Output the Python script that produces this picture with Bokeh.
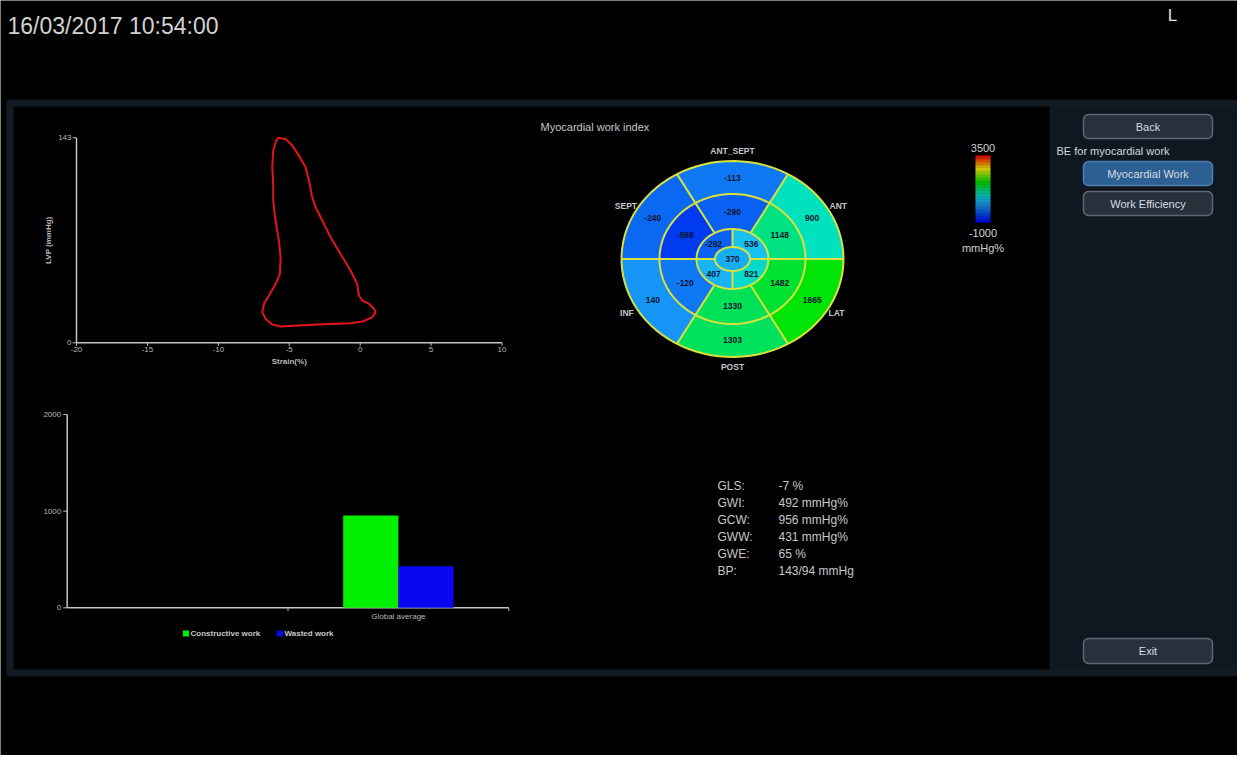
import numpy as np
from bokeh.plotting import figure
from bokeh.models import Range1d, ColumnDataSource
from bokeh.transform import linear_cmap
from bokeh.core.properties import value
from bokeh.embed import file_html
from bokeh.resources import INLINE

# ---------------- data ----------------
timestamp = ["16/03/2017 10:54:00"]
side_mark = ["L"]

# pressure-strain loop
loop_strain = [-5.80, -5.26, -4.79, -4.32, -3.85, -3.61, -3.38, -3.14, -2.67, -2.09,
               -1.38, -0.68, -0.21, -0.09, 0.15, 0.62, 0.97, 1.09, 0.85, 0.26,
               -0.68, -3.03, -5.61, -6.20, -6.67, -6.90, -6.78, -6.43, -5.96, -5.66,
               -5.61, -5.73, -5.89, -6.03, -6.13, -6.13, -6.20, -6.13, -5.96, -5.80]
loop_lvp = [143.0, 142.2, 137.6, 130.6, 122.5, 113.2, 101.6, 94.6, 85.3, 73.7,
            62.0, 50.4, 41.1, 33.0, 29.5, 27.2, 23.7, 21.4, 17.9, 15.1,
            13.7, 12.8, 11.4, 12.8, 16.7, 21.4, 27.2, 33.0, 41.1, 48.1,
            59.7, 71.3, 80.6, 89.9, 99.2, 110.9, 122.5, 134.1, 139.9, 143.0]
strain_ticks = [-20, -15, -10, -5, 0, 5, 10]
lvp_ticks = [0, 143]
strain_title = ["Strain(%)"]
lvp_title = ["LVP (mmHg)"]

# bar chart
bar_factors = ["", "Global average"]
constructive_work = [956]
wasted_work = [431]
work_ticks = [0, 1000, 2000]
legend_labels = ["Constructive work", "Wasted work"]

# bullseye (17 segments)
sector_names = ["ANT_SEPT", "ANT", "LAT", "POST", "INF", "SEPT"]
basal_work = [-113, 900, 1665, 1303, 140, -240]
mid_work = [-290, 1148, 1482, 1330, -120, -568]
apical_work = [536, -292, 407, 821]          # upper-right, upper-left, lower-left, lower-right
apex_work = [370]
scale_min, scale_max = -1000, 3500
scale_unit = ["mmHg%"]

summary_labels = ["GLS:", "GWI:", "GCW:", "GWW:", "GWE:", "BP:"]
summary_values = ["-7 %", "492 mmHg%", "956 mmHg%", "431 mmHg%", "65 %", "143/94 mmHg"]

buttons = ["Back", "Myocardial Work", "Work Efficiency", "Exit"]
panel_caption = ["BE for myocardial work"]
bullseye_title = ["Myocardial work index"]

# ---------------- styling ----------------
FONT = value("Liberation Sans")
AXIS = "#c4c4c4"
TICKTXT = "#b8b8b8"
GREEN = "#00f000"
BLUE = "#0808f0"

stops_v = [-1000, -500, 0, 500, 900, 1300, 1700, 2600, 3500]
stops_rgb = [(0, 0, 255), (0, 70, 240), (20, 135, 245), (25, 190, 245), (0, 225, 190),
             (0, 225, 95), (0, 228, 0), (255, 255, 0), (255, 0, 0)]
_v = np.linspace(scale_min, scale_max, 256)
palette = ["#%02x%02x%02x" % tuple(int(round(np.interp(v, stops_v, [c[i] for c in stops_rgb])))
                                   for i in range(3)) for v in _v]


def label(target, x, y, txt, size, color, align="left", baseline="middle", style="normal", **kw):
    target.text(x=x, y=y, text=txt, text_font=FONT, text_font_size=size, text_color=color,
                text_align=align, text_baseline=baseline, text_font_style=style, **kw)


# ---------------- canvas ----------------
W, H = 1237, 755
p = figure(width=W, height=H, x_range=Range1d(0, W), y_range=Range1d(H, 0),
           output_backend="svg", toolbar_location=None,
           x_axis_location=None, y_axis_location=None,
           background_fill_color="black", border_fill_color="black",
           outline_line_color=None, min_border=0)
p.xgrid.visible = False
p.ygrid.visible = False

# frame panels
p.quad(left=[6], right=[1250], top=[99], bottom=[676], fill_color="#121a24", line_color=None)
p.quad(left=[1050], right=[1250], top=[106], bottom=[669], fill_color="#0f1721", line_color=None)
p.quad(left=[13], right=[1049], top=[106], bottom=[669], fill_color="black", line_color=None)

# header
label(p, [7], [25], timestamp, "23px", "#d2d2d2")
label(p, [1172], [15], side_mark, "17px", "#e0e0e0", align="center")

# right-hand buttons
btn_top = [114, 161, 191, 638]
btn_bot = [138, 185, 215, 663]
btn_fill = ["#27313c", "#2c5f92", "#27313c", "#27313c"]
btn_line = ["#5d6873", "#4d7fb3", "#5d6873", "#5d6873"]
p.quad(left=[1083] * 4, right=[1212] * 4, top=btn_top, bottom=btn_bot,
       fill_color=btn_fill, line_color=btn_line, line_width=1.5, border_radius=5)
label(p, [1147.5] * 4, [(a + b) / 2 for a, b in zip(btn_top, btn_bot)], buttons, "11px",
      "#d6dbe0", align="center")
label(p, [1056], [150], panel_caption, "11px", "#d4d8dc")

# ---------------- pressure-strain loop ----------------
pv_xt, pv_yt = (76, 501.5), (342.3, 137.3)
pv = p.subplot(x_source=Range1d(strain_ticks[0], strain_ticks[-1]), y_source=Range1d(lvp_ticks[0], lvp_ticks[-1]),
               x_target=Range1d(*pv_xt), y_target=Range1d(*pv_yt))
ux = (strain_ticks[-1] - strain_ticks[0]) / (pv_xt[1] - pv_xt[0])
uy = (lvp_ticks[-1] - lvp_ticks[0]) / (pv_yt[0] - pv_yt[1])
x0, y0 = strain_ticks[0], lvp_ticks[0]
pv.line([x0, x0], [lvp_ticks[0], lvp_ticks[-1]], line_color=AXIS, line_width=1.5)
pv.line([strain_ticks[0], strain_ticks[-1]], [y0, y0], line_color=AXIS, line_width=1.5)
pv.segment(x0=strain_ticks, x1=strain_ticks, y0=[y0] * len(strain_ticks), y1=[y0 - 3 * uy] * len(strain_ticks),
           line_color=AXIS, line_width=1)
pv.segment(x0=[x0] * 2, x1=[x0 - 4 * ux] * 2, y0=lvp_ticks, y1=lvp_ticks, line_color=AXIS, line_width=1)
label(pv, strain_ticks, [y0] * len(strain_ticks), [str(t) for t in strain_ticks], "8px", TICKTXT,
      align="center", baseline="top", y_offset=4)
label(pv, [x0] * 2, lvp_ticks, [str(t) for t in lvp_ticks], "8px", TICKTXT, align="right", x_offset=-5)
label(pv, [(strain_ticks[0] + strain_ticks[-1]) / 2], [y0], strain_title, "8px", TICKTXT,
      align="center", baseline="top", y_offset=14, style="bold")
label(pv, [x0], [(lvp_ticks[0] + lvp_ticks[-1]) / 2], lvp_title, "8px", TICKTXT,
      align="center", baseline="middle", x_offset=-28, angle=np.pi / 2, style="bold")
pv.line(loop_strain, loop_lvp, line_color="#e3141c", line_width=2)

# ---------------- bar chart ----------------
bc_xt, bc_yt = (66.7, 508.3), (607.3, 414)
nf = len(bar_factors)
bc = p.subplot(x_source=Range1d(0, nf), y_source=Range1d(work_ticks[0], work_ticks[-1]),
               x_target=Range1d(*bc_xt), y_target=Range1d(*bc_yt))
bux = nf / (bc_xt[1] - bc_xt[0])
buy = (work_ticks[-1] - work_ticks[0]) / (bc_yt[0] - bc_yt[1])
gi = bar_factors.index("Global average") + 0.5
bc.line([0, 0], [work_ticks[0], work_ticks[-1]], line_color=AXIS, line_width=1.5)
bc.line([0, nf], [0, 0], line_color=AXIS, line_width=1.5)
bc.segment(x0=[-4 * bux] * 3, x1=[0] * 3, y0=work_ticks, y1=work_ticks, line_color=AXIS, line_width=1)
bc.segment(x0=list(range(1, nf + 1)), x1=list(range(1, nf + 1)), y0=[0] * nf, y1=[-3 * buy] * nf,
           line_color=AXIS, line_width=1)
label(bc, [0] * 3, work_ticks, [str(t) for t in work_ticks], "8px", TICKTXT, align="right", x_offset=-6)
label(bc, [i + 0.5 for i in range(nf)], [0] * nf, bar_factors, "8px", TICKTXT, align="center",
      baseline="top", y_offset=4)
bc.vbar(x=[gi - 0.125], top=constructive_work, width=0.25, bottom=0, fill_color=GREEN, line_color=None)
bc.vbar(x=[gi + 0.125], top=wasted_work, width=0.25, bottom=0, fill_color=BLUE, line_color=None)
# legend
p.scatter(x=[185.5, 279.5], y=[633, 633], marker="square", size=6, fill_color=[GREEN, BLUE], line_color=None)
label(p, [190, 284], [633, 633], legend_labels, "8px", "#c8c8c8", style="bold")

# ---------------- bullseye ----------------
label(p, [540], [126], bullseye_title, "11px", "#c8c8c8")
cx, cy, rx, ry = 732, 258.5, 111, 98
be = p.subplot(x_source=Range1d(-1, 1), y_source=Range1d(-1, 1),
               x_target=Range1d(cx - rx, cx + rx), y_target=Range1d(cy + ry, cy - ry))
ring_x = [1.0, 0.658, 0.324, 0.158]
ring_y = [1.0, 0.663, 0.306, 0.122]
six_centres = [90, 30, -30, -90, -150, 150]
four_centres = [45, 135, 225, 315]


def sector(k_out, k_in, a0, a1, n=40):
    t = np.radians(np.linspace(a0, a1, n))
    xs = np.concatenate([ring_x[k_out] * np.cos(t), ring_x[k_in] * np.cos(t[::-1])])
    ys = np.concatenate([ring_y[k_out] * np.sin(t), ring_y[k_in] * np.sin(t[::-1])])
    return xs, ys


xs, ys, vs, tx, ty = [], [], [], [], []
for ring, (ko, ki, centres, half, vals) in enumerate([(0, 1, six_centres, 30, basal_work),
                                                       (1, 2, six_centres, 30, mid_work),
                                                       (2, 3, four_centres, 45, apical_work)]):
    for c, v in zip(centres, vals):
        a, b = sector(ko, ki, c - half, c + half)
        xs.append(a); ys.append(b); vs.append(v)
        tx.append((ring_x[ko] + ring_x[ki]) / 2 * np.cos(np.radians(c)))
        ty.append((ring_y[ko] + ring_y[ki]) / 2 * np.sin(np.radians(c)))
t = np.radians(np.linspace(0, 360, 90))
xs.append(ring_x[3] * np.cos(t)); ys.append(ring_y[3] * np.sin(t)); vs.append(apex_work[0])
tx.append(0.0); ty.append(0.0)
seg_src = ColumnDataSource(dict(xs=xs, ys=ys, v=vs))
be.patches("xs", "ys", source=seg_src, fill_color=linear_cmap("v", palette, scale_min, scale_max),
           line_color=None)

# outlines
ox = [ring_x[k] * np.cos(t) for k in range(4)]
oy = [ring_y[k] * np.sin(t) for k in range(4)]
for a in [0, 60, 120, 180, 240, 300]:
    r = np.radians(a)
    ox.append([ring_x[2] * np.cos(r), ring_x[0] * np.cos(r)])
    oy.append([ring_y[2] * np.sin(r), ring_y[0] * np.sin(r)])
for a in [0, 90, 180, 270]:
    r = np.radians(a)
    ox.append([ring_x[3] * np.cos(r), ring_x[2] * np.cos(r)])
    oy.append([ring_y[3] * np.sin(r), ring_y[2] * np.sin(r)])
be.multi_line(ox, oy, line_color="#d9e23c", line_width=2)

label(be, tx, ty, [str(v) for v in vs], "8.5px", "#0a1630", align="center", style="bold")
name_x = [0.0, 0.874, 0.865, 0.0, -0.89, -0.86]
name_y = [1.097, 0.545, -0.556, -1.098, -0.546, 0.545]
name_align = ["center", "left", "left", "center", "right", "right"]
label(be, name_x, name_y, sector_names, "8.5px", "#c4c8cc", style="bold",
      align=name_align)

# colour scale
cb = p.subplot(x_source=Range1d(0, 1), y_source=Range1d(scale_min, scale_max),
               x_target=Range1d(975, 990), y_target=Range1d(222, 155))
lv = np.linspace(scale_min, scale_max, 91)
cb_src = ColumnDataSource(dict(b=lv[:-1], t=lv[1:], m=(lv[:-1] + lv[1:]) / 2))
cb.quad(left=0, right=1, bottom="b", top="t", source=cb_src,
        fill_color=linear_cmap("m", palette, scale_min, scale_max), line_color=None)
label(cb, [0.5], [scale_max], [str(scale_max)], "11px", "#d0d0d0",
      align="center", baseline="middle", y_offset=-8)
label(cb, [0.5], [scale_min], [str(scale_min)], "11px", "#d0d0d0",
      align="center", baseline="middle", y_offset=10)
label(cb, [0.5], [scale_min], scale_unit, "11px", "#d0d0d0", align="center", baseline="middle", y_offset=25)

# summary
label(p, [717] * 6, [485, 502, 519, 536, 553, 570], summary_labels, "12px", "#c8c8c8")
label(p, [778] * 6, [485, 502, 519, 536, 553, 570], summary_values, "12px", "#c8c8c8")

open("out.html", "w").write(file_html(p, INLINE))
